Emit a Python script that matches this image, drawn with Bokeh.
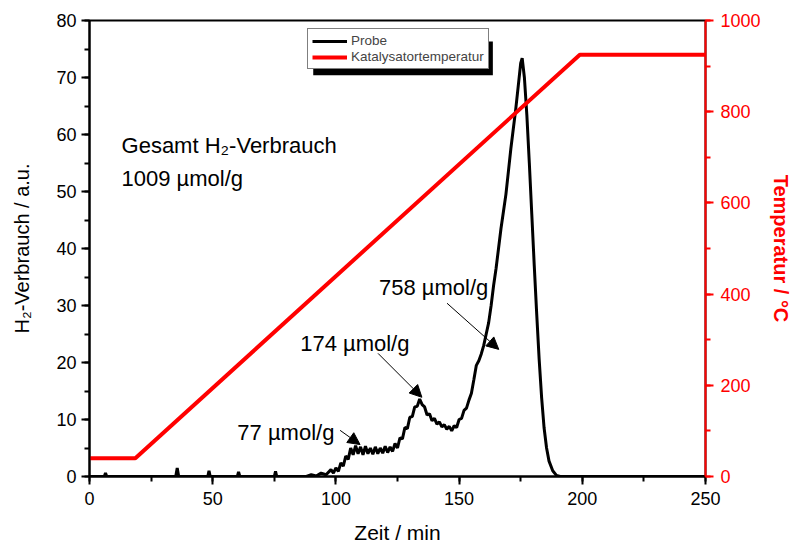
from bokeh.plotting import figure
from bokeh.models import (Range1d, LinearAxis, SingleIntervalTicker, Label, Arrow,
                          NormalHead, Legend, LegendItem, BoxAnnotation)
from bokeh.embed import file_html
from bokeh.resources import INLINE

# ---------------- data ----------------
time_probe = [0, 6, 6.5, 7, 35, 35.6, 36.2, 48, 48.5, 49, 60, 60.5, 61, 75, 75.5, 76, 88, 90, 92, 94, 96, 98,
              99, 100, 101, 102, 103, 104, 105, 106, 107, 108, 109, 110, 111, 112, 113, 114, 115, 116, 117,
              118, 119, 120, 121, 122, 123, 124, 125, 126, 127, 128, 129, 130, 131, 132, 133, 134, 135, 136,
              137, 138, 139, 140, 141, 142, 143, 144, 145, 146, 147, 148, 149, 150, 151, 152, 153, 154, 155,
              156, 157, 158, 159, 160, 161, 162, 163, 164, 165, 166, 167, 168, 169, 170, 171, 172, 173, 174,
              175, 175.6, 176.5, 177.5, 178.5, 179.5, 180.5, 181.5, 182.5, 183.5, 184.5, 185.5, 186.5, 188,
              189.5, 191, 250]
h2_probe = [0, 0, 0.6, 0, 0, 1.5, 0, 0, 1.0, 0, 0, 0.8, 0, 0, 0.9, 0, 0, 0.3, 0.1, 0.6, 0.3, 1.2,
            0.6, 1.5, 0.9, 2.4, 1.8, 3.6, 3.0, 5.0, 3.8, 5.4, 4.0, 5.2, 3.8, 5.3, 4.0, 5.0, 3.9, 5.2, 4.0,
            5.0, 4.1, 5.3, 4.2, 5.2, 4.4, 5.8, 5.0, 6.8, 6.6, 8.6, 8.4, 10.4, 10.5, 12.2, 12.3, 13.6, 12.6, 12.2,
            10.8, 11.0, 9.8, 10.2, 9.2, 9.6, 8.7, 9.1, 8.3, 8.8, 8.0, 8.9, 8.6, 10.0, 10.2, 11.6, 12.0, 13.4, 14.6,
            17.0, 19.5, 20.3, 21.5, 23.0, 25.0, 27.0, 30.0, 33.5, 36.5, 40.0, 43.5, 46.5, 49.5, 53.5, 57.5, 61.0, 64.5, 68.5,
            72.5, 73.4, 70.0, 63.4, 55.0, 46.0, 37.0, 28.5, 20.5, 13.8, 8.5, 5.0, 2.7, 1.0,
            0.2, 0, 0]

time_temp = [0, 18.6, 199, 250]
temp_cat = [40, 40, 925, 925]

x_ticks_interval = 50
y_ticks_interval = 10
t_ticks_interval = 200

# annotations: text, x, y (data coords, left axis)
ann_text = ["Gesamt H\u2082-Verbrauch", "1009 \u00b5mol/g", "758 \u00b5mol/g", "174 \u00b5mol/g", "77 \u00b5mol/g"]
ann_x = [13, 13, 117.5, 85.5, 60]
ann_y = [58.1, 52.3, 33.2, 23.3, 7.7]
ann_size = ["22px", "22px", "22px", "22px", "22px"]

# arrows: start -> end
arr_x0 = [145.1, 117.1, 101.7]
arr_y0 = [30.4, 21.6, 8.1]
arr_x1 = [166.1, 134.9, 109.8]
arr_y1 = [22.3, 13.9, 5.6]

FONT = "Liberation Sans"
RED = "#ff0000"

p = figure(width=794, height=548, output_backend="svg", toolbar_location=None,
           x_range=Range1d(0, 250), y_range=Range1d(0, 80),
           min_border_left=89, min_border_right=88, min_border_top=20, min_border_bottom=72,
           background_fill_color="white", border_fill_color="white")
p.extra_y_ranges = {"temp": Range1d(0, 1000)}
p.grid.visible = False
p.outline_line_color = "black"
p.outline_line_width = 2

# legend shadow (behind legend)
shadow = BoxAnnotation(left=90.8, right=163.7, top=76.3, bottom=70.4,
                       fill_color="black", fill_alpha=1.0, line_color=None, level="overlay")

# lines
r_probe = p.line(time_probe, h2_probe, line_color="black", line_width=3)
r_temp = p.line(time_temp, temp_cat, line_color=RED, line_width=4, y_range_name="temp")

# axes styling
def style_axis(ax, color):
    ax.axis_line_color = color
    ax.axis_line_width = 2
    ax.major_tick_line_color = color
    ax.minor_tick_line_color = color
    ax.major_tick_line_width = 2
    ax.minor_tick_line_width = 2
    ax.major_tick_in = 0
    ax.major_tick_out = 8
    ax.minor_tick_in = 0
    ax.minor_tick_out = 5
    ax.major_label_text_font = FONT
    ax.major_label_text_font_size = "18px"
    ax.major_label_text_color = color
    ax.axis_label_text_font = FONT
    ax.axis_label_text_font_style = "normal"
    ax.axis_label_text_color = color

xa = p.xaxis[0]
xa.ticker = SingleIntervalTicker(interval=x_ticks_interval, num_minor_ticks=2)
style_axis(xa, "black")
xa.axis_label = "Zeit / min"
xa.axis_label_text_font_size = "21px"
xa.major_label_standoff = 7
xa.axis_label_standoff = 13

ya = p.yaxis[0]
ya.ticker = SingleIntervalTicker(interval=y_ticks_interval, num_minor_ticks=2)
style_axis(ya, "black")
ya.axis_label = "H\u2082-Verbrauch / a.u."
ya.axis_label_text_font_size = "20px"
ya.major_label_standoff = 5
ya.axis_label_standoff = 20

ra = LinearAxis(y_range_name="temp", ticker=SingleIntervalTicker(interval=t_ticks_interval, num_minor_ticks=2))
style_axis(ra, RED)
ra.axis_label = "Temperatur / \u00b0C"
ra.axis_label_text_font_size = "20px"
ra.axis_label_text_font_style = "bold"
ra.major_label_standoff = 7
ra.axis_label_standoff = 6
p.add_layout(ra, "right")

# text annotations
for t, x, y, s in zip(ann_text, ann_x, ann_y, ann_size):
    p.add_layout(Label(x=x, y=y, text=t, text_font=FONT, text_font_size=s,
                       text_color="black", text_baseline="alphabetic", text_align="left"))

for x0, y0, x1, y1 in zip(arr_x0, arr_y0, arr_x1, arr_y1):
    p.add_layout(Arrow(x_start=x0, y_start=y0, x_end=x1, y_end=y1, line_color="black", line_width=1,
                       end=NormalHead(size=12, fill_color="black", line_color="black", line_width=1)))

p.add_layout(shadow)

legend = Legend(items=[LegendItem(label="Probe", renderers=[r_probe]),
                       LegendItem(label="Katalysatortemperatur", renderers=[r_temp])],
                location=(218, 407), orientation="vertical",
                label_text_font=FONT, label_text_font_size="13.5px",
                glyph_width=35, glyph_height=12, label_height=12, label_standoff=4,
                spacing=1, padding=4, margin=0,
                border_line_color="black", border_line_width=1,
                background_fill_color="white", background_fill_alpha=1.0)
p.add_layout(legend, "center")

open("out.html", "w").write(file_html(p, INLINE))
